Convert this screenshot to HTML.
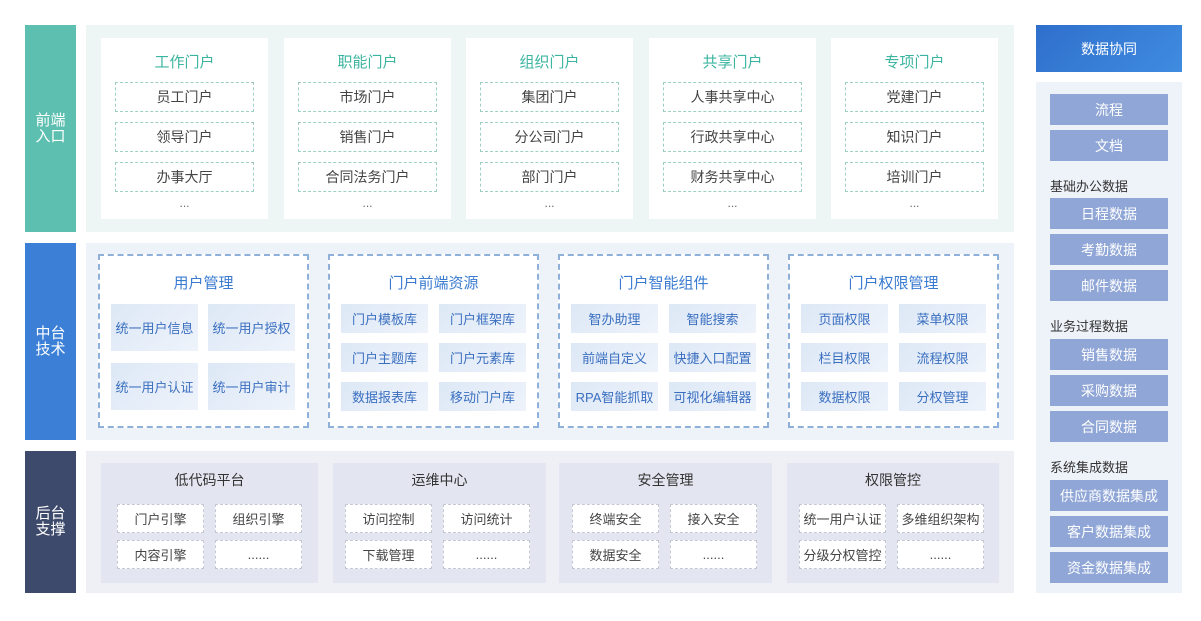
<!DOCTYPE html>
<html><head><meta charset="utf-8">
<style>
*{margin:0;padding:0;box-sizing:border-box}
body{width:1201px;height:621px;background:#fff;position:relative;overflow:hidden;font-family:"Liberation Sans","Noto Sans CJK SC",sans-serif;font-size:13px;color:#333}
div{position:absolute}
.c{display:flex;align-items:center;justify-content:center;text-align:center}
.bar{color:#fff;font-size:15px;line-height:16px;width:51px;left:25px}
.card{background:#fff;width:167px;top:38px;height:181px}
.card .t{left:0;width:167px;top:13px;color:#3cb5a0;font-size:15px;text-align:center}
.card .i{left:14px;width:139px;height:30px;border:1px dashed #9dcfc5;color:#444;font-size:14px}
.card .d{left:0;width:167px;top:158px;text-align:center;color:#666;font-size:12px}
.db{border:2px dashed #8fb0d8;width:211px;top:254px;height:174px;background:#fff}
.db .t{left:0;width:207px;top:16px;text-align:center;color:#3a7bd0;font-size:15px}
.bi{background:linear-gradient(135deg,#dde8f6,#eef3fb);color:#3a6fc0;font-size:13px;width:87px;height:29px}
.bi2{height:47px}
.lb{background:#e3e6f0;width:213px;top:463px;height:120px}
.lb .t{left:0;width:100%;top:7px;text-align:center;color:#333;font-size:14px}
.li{background:#fff;border:1px dashed #c4c8d2;width:87px;height:29px;color:#444;font-size:13px}
.ri{left:1050px;width:118px;height:31px;background:#8fa6d6;color:#fff;font-size:14px}
.rl{left:1050px;font-size:13px;color:#333}
</style></head><body>
<div class="bar c" style="top:25px;height:207px;background:#5dbfb0">前端<br>入口</div>
<div class="bar c" style="top:243px;height:197px;background:#3b7fd6">中台<br>技术</div>
<div class="bar c" style="top:451px;height:142px;background:#3d4a6b">后台<br>支撑</div>

<div style="left:86px;top:25px;width:928px;height:207px;background:#edf6f4"></div>
<div class="card" style="left:101px"><div class="t">工作门户</div>
<div class="i c" style="top:44px">员工门户</div><div class="i c" style="top:84px">领导门户</div><div class="i c" style="top:124px">办事大厅</div><div class="d">...</div></div>
<div class="card" style="left:284px"><div class="t">职能门户</div>
<div class="i c" style="top:44px">市场门户</div><div class="i c" style="top:84px">销售门户</div><div class="i c" style="top:124px">合同法务门户</div><div class="d">...</div></div>
<div class="card" style="left:466px"><div class="t">组织门户</div>
<div class="i c" style="top:44px">集团门户</div><div class="i c" style="top:84px">分公司门户</div><div class="i c" style="top:124px">部门门户</div><div class="d">...</div></div>
<div class="card" style="left:649px"><div class="t">共享门户</div>
<div class="i c" style="top:44px">人事共享中心</div><div class="i c" style="top:84px">行政共享中心</div><div class="i c" style="top:124px">财务共享中心</div><div class="d">...</div></div>
<div class="card" style="left:831px"><div class="t">专项门户</div>
<div class="i c" style="top:44px">党建门户</div><div class="i c" style="top:84px">知识门户</div><div class="i c" style="top:124px">培训门户</div><div class="d">...</div></div>

<div style="left:86px;top:243px;width:928px;height:197px;background:#eef3fa"></div>
<div class="db" style="left:98px"><div class="t">用户管理</div></div>
<div class="bi bi2 c" style="left:111px;top:304px">统一用户信息</div>
<div class="bi bi2 c" style="left:208px;top:304px">统一用户授权</div>
<div class="bi bi2 c" style="left:111px;top:363px">统一用户认证</div>
<div class="bi bi2 c" style="left:208px;top:363px">统一用户审计</div>

<div class="db" style="left:328px"><div class="t">门户前端资源</div></div>
<div class="bi c" style="left:341px;top:304px">门户模板库</div><div class="bi c" style="left:439px;top:304px">门户框架库</div>
<div class="bi c" style="left:341px;top:343px">门户主题库</div><div class="bi c" style="left:439px;top:343px">门户元素库</div>
<div class="bi c" style="left:341px;top:382px">数据报表库</div><div class="bi c" style="left:439px;top:382px">移动门户库</div>

<div class="db" style="left:558px"><div class="t">门户智能组件</div></div>
<div class="bi c" style="left:571px;top:304px">智办助理</div><div class="bi c" style="left:669px;top:304px">智能搜索</div>
<div class="bi c" style="left:571px;top:343px">前端自定义</div><div class="bi c" style="left:669px;top:343px">快捷入口配置</div>
<div class="bi c" style="left:571px;top:382px">RPA智能抓取</div><div class="bi c" style="left:669px;top:382px">可视化编辑器</div>

<div class="db" style="left:788px"><div class="t">门户权限管理</div></div>
<div class="bi c" style="left:801px;top:304px">页面权限</div><div class="bi c" style="left:899px;top:304px">菜单权限</div>
<div class="bi c" style="left:801px;top:343px">栏目权限</div><div class="bi c" style="left:899px;top:343px">流程权限</div>
<div class="bi c" style="left:801px;top:382px">数据权限</div><div class="bi c" style="left:899px;top:382px">分权管理</div>

<div style="left:86px;top:451px;width:928px;height:142px;background:#eff0f6"></div>
<div class="lb" style="left:101px;width:217px"><div class="t">低代码平台</div></div>
<div class="li c" style="left:117px;top:504px">门户引擎</div><div class="li c" style="left:215px;top:504px">组织引擎</div>
<div class="li c" style="left:117px;top:540px">内容引擎</div><div class="li c" style="left:215px;top:540px">......</div>
<div class="lb" style="left:333px"><div class="t">运维中心</div></div>
<div class="li c" style="left:345px;top:504px">访问控制</div><div class="li c" style="left:443px;top:504px">访问统计</div>
<div class="li c" style="left:345px;top:540px">下载管理</div><div class="li c" style="left:443px;top:540px">......</div>
<div class="lb" style="left:559px"><div class="t">安全管理</div></div>
<div class="li c" style="left:572px;top:504px">终端安全</div><div class="li c" style="left:670px;top:504px">接入安全</div>
<div class="li c" style="left:572px;top:540px">数据安全</div><div class="li c" style="left:670px;top:540px">......</div>
<div class="lb" style="left:787px;width:212px"><div class="t">权限管控</div></div>
<div class="li c" style="left:799px;top:504px">统一用户认证</div><div class="li c" style="left:897px;top:504px">多维组织架构</div>
<div class="li c" style="left:799px;top:540px">分级分权管控</div><div class="li c" style="left:897px;top:540px">......</div>

<div class="c" style="left:1036px;top:25px;width:146px;height:47px;background:linear-gradient(135deg,#2f6fcc,#3f8ce0);color:#fff;font-size:14px">数据协同</div>
<div style="left:1036px;top:82px;width:146px;height:511px;background:#eef3fa"></div>
<div class="ri c" style="top:94px">流程</div>
<div class="ri c" style="top:130px">文档</div>
<div class="rl" style="top:176px">基础办公数据</div>
<div class="ri c" style="top:198px">日程数据</div>
<div class="ri c" style="top:234px">考勤数据</div>
<div class="ri c" style="top:270px">邮件数据</div>
<div class="rl" style="top:316px">业务过程数据</div>
<div class="ri c" style="top:339px">销售数据</div>
<div class="ri c" style="top:375px">采购数据</div>
<div class="ri c" style="top:411px">合同数据</div>
<div class="rl" style="top:457px">系统集成数据</div>
<div class="ri c" style="top:480px">供应商数据集成</div>
<div class="ri c" style="top:516px">客户数据集成</div>
<div class="ri c" style="top:552px">资金数据集成</div>
</body></html>
